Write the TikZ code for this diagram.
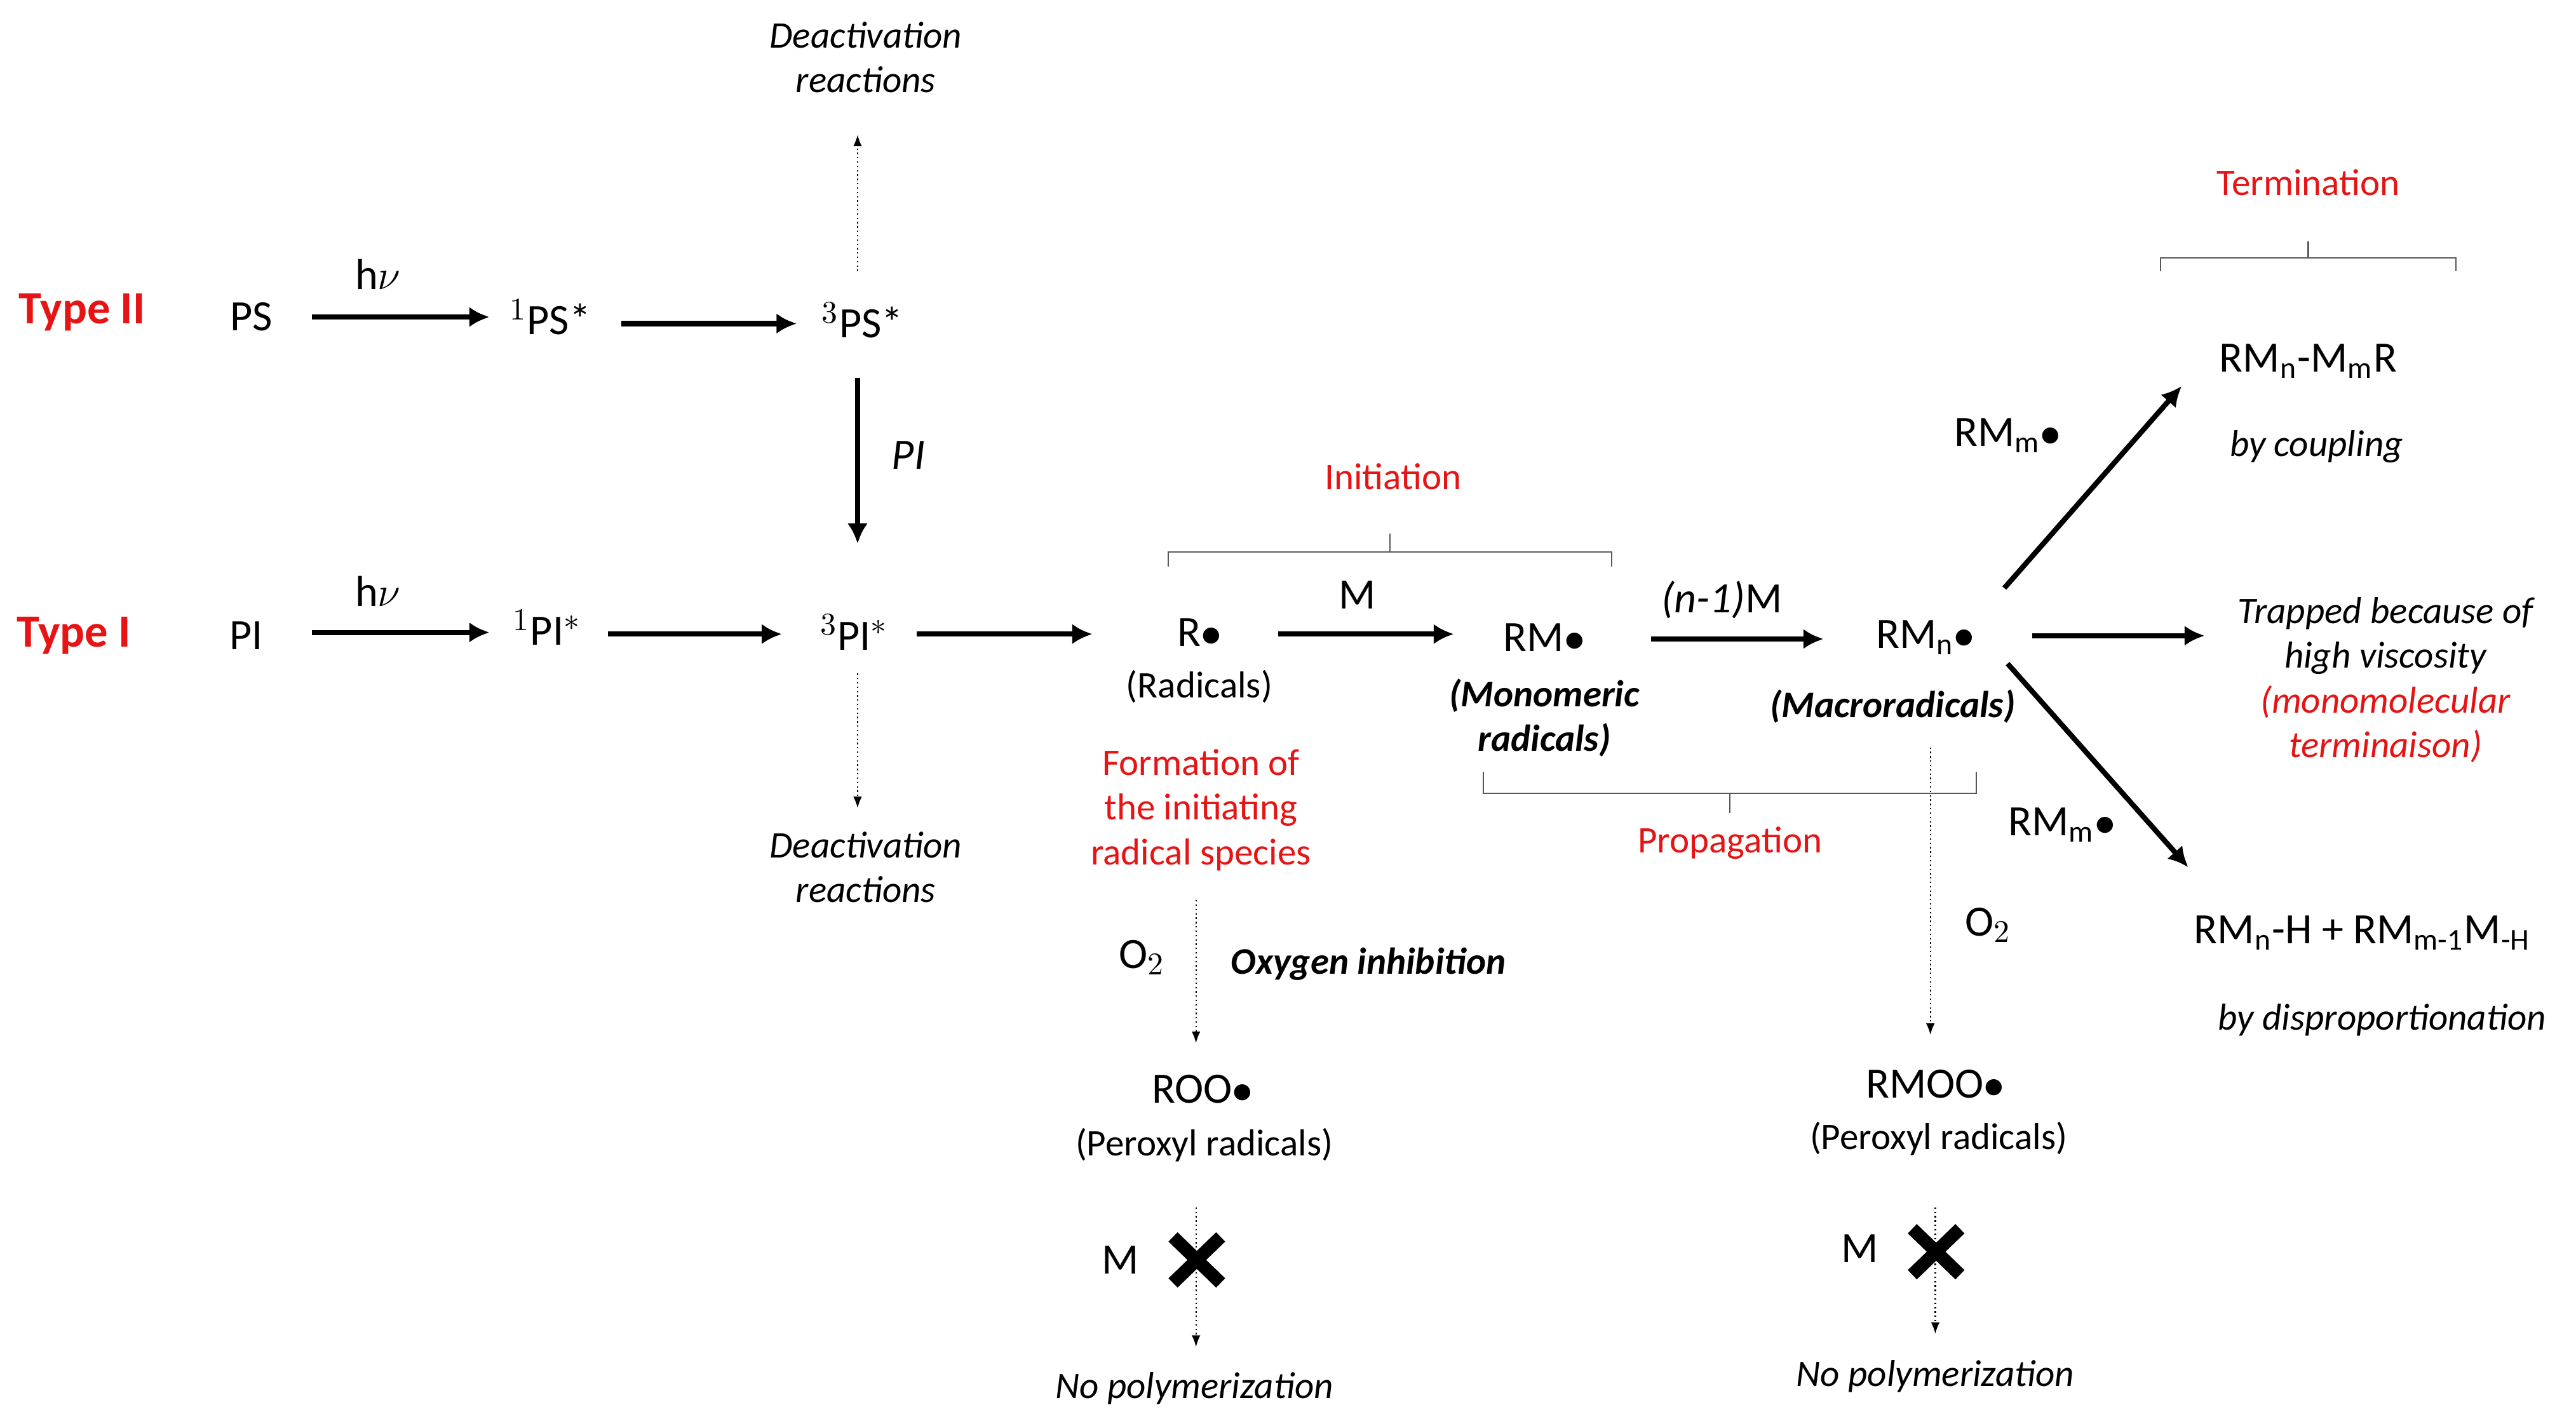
\documentclass[tikz,border=0pt]{standalone}
\usepackage{amsmath}
\usepackage{fontspec}
\setmainfont{Carlito}
\usetikzlibrary{arrows.meta}
\begin{document}
\begin{tikzpicture}[x=0.02cm,y=-0.02cm,
  every node/.style={font=\fontsize{13}{15.5}\selectfont,inner sep=1pt,align=center},
  big/.style={font=\fontsize{15}{17}\selectfont},
  red/.style={text={rgb,255:red,230;green,20;blue,20}},
  typ/.style={font=\fontsize{16}{18}\selectfont\bfseries,text={rgb,255:red,230;green,20;blue,20}},
  it/.style={font=\fontsize{13}{15.5}\selectfont\itshape},
  bi/.style={font=\fontsize{13}{15.5}\selectfont\bfseries\itshape},
  thk/.style={line width=1.8pt,-{Latex[length=7pt,width=7pt]}},
  dot/.style={densely dotted,line width=0.5pt,-{Latex[length=4pt,width=3pt]}},
  brk/.style={line width=0.5pt,gray!70!black}]
\useasboundingbox (0,0) rectangle (1568,868);
% Type II row
\node[typ] (t2) at (50,190) {Type II};
\node[big] (ps) at (153,193) {PS};
\node[big] (hv1) at (230,167) {h$\nu$};
\node[big] (ps1) at (335,193) {$^{1}$PS*};
\node[big] (ps3) at (525,195) {$^{3}$PS*};
\node[it] (da1) at (527,35) {Deactivation\\reactions};
\coordinate (a1s) at (190,193); \coordinate (a1e) at (298,193);
\draw[thk] (a1s) -- (a1e);
\coordinate (a2s) at (378,197); \coordinate (a2e) at (485,197);
\draw[thk] (a2s) -- (a2e);
\coordinate (d1s) at (522,165); \coordinate (d1e) at (522,82);
\draw[dot] (d1s) -- (d1e);
% vertical PI
\coordinate (v1) at (522,230); \coordinate (v2) at (522,331);
\draw[thk] (v1) -- (v2);
\node[font=\fontsize{15}{17}\selectfont\itshape] (pil) at (553,277) {PI};
% Type I row
\node[typ] (t1) at (45,387) {Type I};
\node[big] (pi) at (150,387) {PI};
\node[big] (hv2) at (230,360) {h$\nu$};
\node[big] (pi1) at (333,382) {$^{1}$PI$^{*}$};
\node[big] (pi3) at (520,385) {$^{3}$PI$^{*}$};
\node[big] (r) at (730,385) {R$\bullet$};
\node (rad) at (730,418) {(Radicals)};
\coordinate (b1s) at (190,385); \coordinate (b1e) at (298,385);
\draw[thk] (b1s) -- (b1e);
\coordinate (b2s) at (370,386); \coordinate (b2e) at (476,386);
\draw[thk] (b2s) -- (b2e);
\coordinate (b3s) at (558,386); \coordinate (b3e) at (665,386);
\draw[thk] (b3s) -- (b3e);
\node[it] (da2) at (527,528) {Deactivation\\reactions};
\coordinate (d2s) at (522,410); \coordinate (d2e) at (522,492);
\draw[dot] (d2s) -- (d2e);
% Initiation
\node[red] (ini) at (848,290) {Initiation};
\draw[brk] (711,345) -- (711,336) -- (981,336) -- (981,345) (846,336) -- (846,325);
\node[big] (m1) at (826,362) {M};
\coordinate (c1s) at (778,386); \coordinate (c1e) at (885,386);
\draw[thk] (c1s) -- (c1e);
\node[big] (rm) at (940,388) {RM$\bullet$};
\node[bi] (mon) at (940,437) {(Monomeric\\radicals)};
\node[big] (nm) at (1048,365) {\textit{(n-1)}M};
\coordinate (c2s) at (1005,389); \coordinate (c2e) at (1110,389);
\draw[thk] (c2s) -- (c2e);
\node[big] (rmn) at (1172,388) {RM$_{\text{n}}\bullet$};
\node[bi] (mac) at (1152,430) {(Macroradicals)};
\draw[brk] (903,470) -- (903,483) -- (1203,483) -- (1203,470) (1053,483) -- (1053,495);
\node[red] (prop) at (1053,513) {Propagation};
% left oxygen branch
\node[red] (form) at (731,493) {Formation of\\the initiating\\radical species};
\node[big] (o2a) at (695,583) {O$_2$};
\node[bi] (oxi) at (833,587) {Oxygen inhibition};
\coordinate (e1s) at (728,548); \coordinate (e1e) at (728,635);
\draw[dot] (e1s) -- (e1e);
\node[big] (roo) at (732,663) {ROO$\bullet$};
\node (per1) at (733,697) {(Peroxyl radicals)};
\node[big] (m2) at (682,767) {M};
\coordinate (e2s) at (728,735); \coordinate (e2e) at (728,820);
\draw[dot] (e2s) -- (e2e);
\draw[line width=4.5pt] (714,753) -- (743,781) (714,781) -- (743,753);
\node[it] (np1) at (727,845) {No polymerization};
% right oxygen branch
\coordinate (f1s) at (1175,455); \coordinate (f1e) at (1175,630);
\draw[dot] (f1s) -- (f1e);
\node[big] (o2b) at (1210,563) {O$_2$};
\node[big] (rmoo) at (1178,660) {RMOO$\bullet$};
\node (per2) at (1180,693) {(Peroxyl radicals)};
\node[big] (m3) at (1132,760) {M};
\coordinate (f2s) at (1178,735); \coordinate (f2e) at (1178,812);
\draw[dot] (f2s) -- (f2e);
\draw[line width=4.5pt] (1164,748) -- (1193,776) (1164,776) -- (1193,748);
\node[it] (np2) at (1178,838) {No polymerization};
% Termination
\node[red] (term) at (1405,111) {Termination};
\draw[brk] (1315,165) -- (1315,157) -- (1495,157) -- (1495,165) (1405,157) -- (1405,147);
\node[big] (cp) at (1405,220) {RM$_{\text{n}}$-M$_{\text{m}}$R};
\node[it] (byc) at (1410,272) {by coupling};
\node[big] (rmm1) at (1222,265) {RM$_{\text{m}}\bullet$};
\coordinate (g1s) at (1220,358); \coordinate (g1e) at (1328,235);
\draw[thk] (g1s) -- (g1e);
\coordinate (g2s) at (1237,387); \coordinate (g2e) at (1342,387);
\draw[thk] (g2s) -- (g2e);
\node[it] (trap) at (1452,414) {Trapped because of\\high viscosity\\\textcolor[rgb]{0.9,0.08,0.08}{(monomolecular}\\\textcolor[rgb]{0.9,0.08,0.08}{terminaison)}};
\coordinate (g3s) at (1222,404); \coordinate (g3e) at (1332,528);
\draw[thk] (g3s) -- (g3e);
\node[big] (rmm2) at (1255,502) {RM$_{\text{m}}\bullet$};
\node[big] (dis) at (1438,568) {RM$_{\text{n}}$-H + RM$_{\text{m-1}}$M$_{\text{-H}}$};
\node[it] (byd) at (1450,621) {by disproportionation};
\end{tikzpicture}
\end{document}
